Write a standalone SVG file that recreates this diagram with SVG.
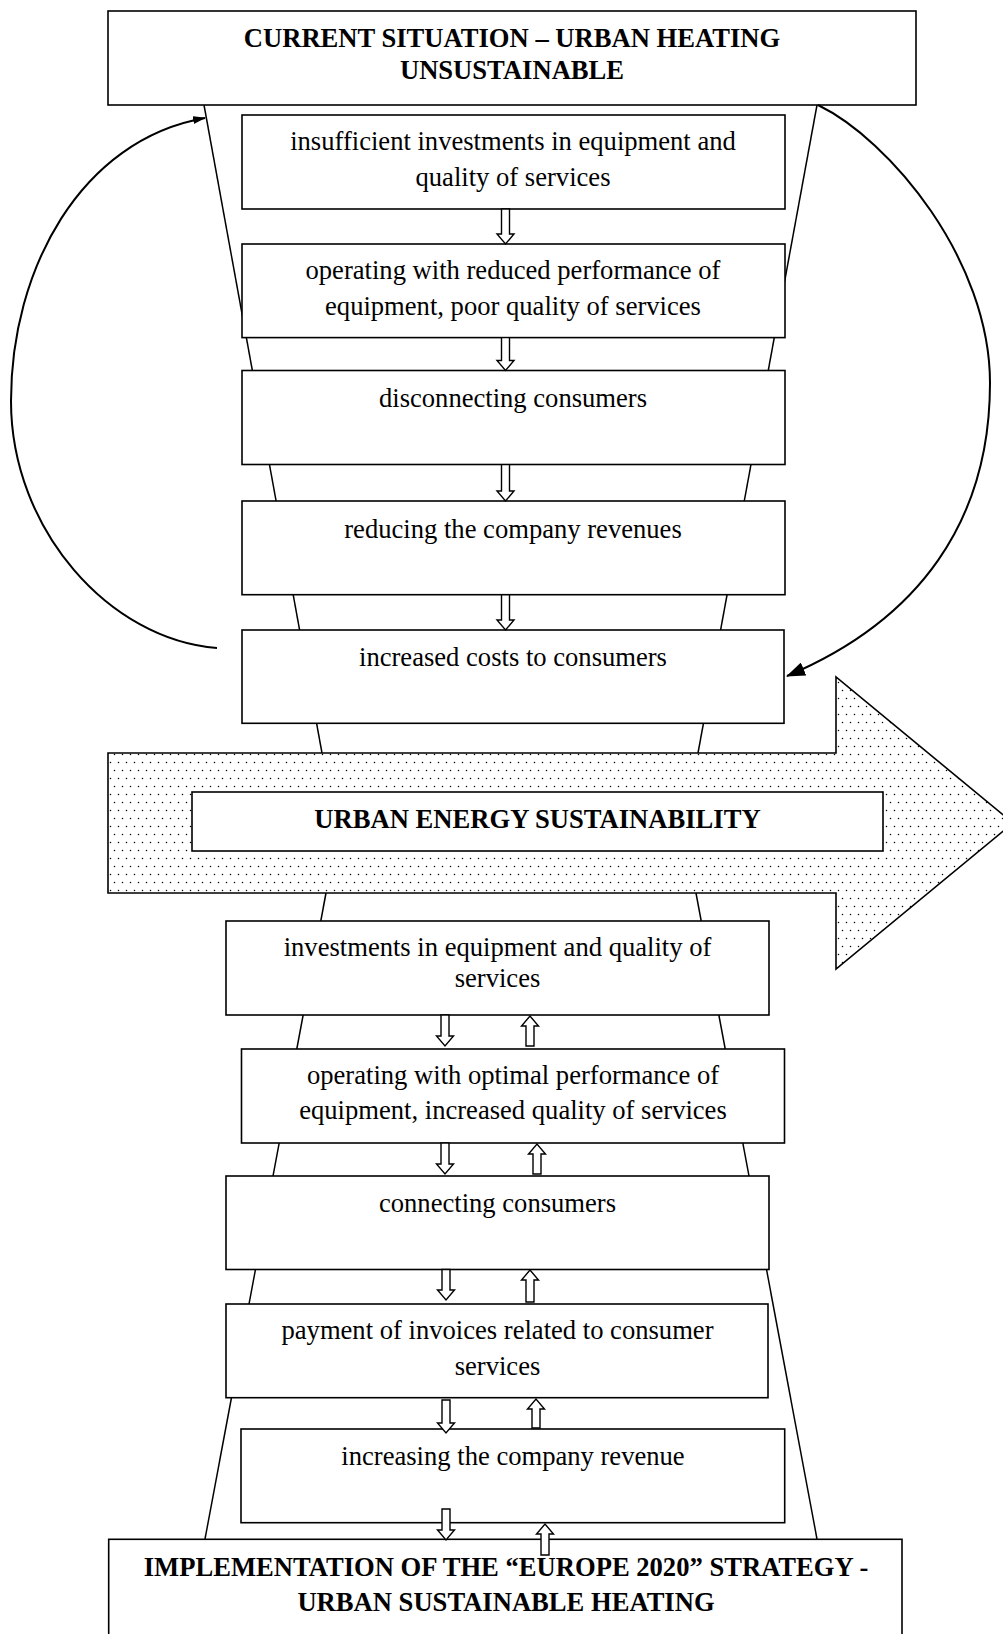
<svg xmlns="http://www.w3.org/2000/svg" width="1003" height="1634" viewBox="0 0 1003 1634">
<style>
.box{fill:#fff;stroke:#000;stroke-width:1.6}
.ln{fill:none;stroke:#000;stroke-width:1.5}
.arc{fill:none;stroke:#000;stroke-width:2}
.blk{fill:#fff;stroke:#000;stroke-width:1.4;stroke-linejoin:miter}
.t{font-family:"Liberation Serif","Times New Roman",serif;font-size:26.6px;fill:#000;text-anchor:middle}
.b{font-weight:bold}
</style>
<defs>
<pattern id="dots" width="16" height="16" patternUnits="userSpaceOnUse">
<rect width="16" height="16" fill="#fff"/>
<circle cx="2.5" cy="2.5" r="0.75" fill="#000"/>
<circle cx="10.5" cy="2.5" r="0.75" fill="#000"/>
<circle cx="6.5" cy="10.5" r="0.75" fill="#000"/>
<circle cx="14.5" cy="10.5" r="0.75" fill="#000"/>
</pattern>
<marker id="arrowBig" markerWidth="19" markerHeight="14" refX="18" refY="7" orient="auto" markerUnits="userSpaceOnUse"><path d="M0,0 L19,7 L0,14 Z" fill="#000"/></marker>
<marker id="arrowSmall" markerWidth="13" markerHeight="8" refX="12" refY="4" orient="auto" markerUnits="userSpaceOnUse"><path d="M0,0 L13,4 L0,8 Z" fill="#000"/></marker>
</defs>
<rect width="1003" height="1634" fill="#fff"/>

<g id="funnel">
<line class="ln" x1="204" y1="105" x2="322" y2="753"/>
<line class="ln" x1="817" y1="105" x2="698" y2="753"/>
<line class="ln" x1="326" y1="893" x2="205" y2="1539"/>
<line class="ln" x1="696" y1="893" x2="817" y2="1539"/>
</g>

<g id="big-arrow">
<polygon points="108,753 836,753 836,677 1013,823 836,969 836,893 108,893" fill="url(#dots)" stroke="#000" stroke-width="1.6"/>
</g>

<g id="n-current">
<rect class="box" x="108" y="11" width="808" height="94"/>
<text class="t b" x="512" y="47">CURRENT SITUATION – URBAN HEATING</text>
<text class="t b" x="512" y="78.5">UNSUSTAINABLE</text>
</g>
<g id="n1">
<rect class="box" x="242" y="115" width="543" height="94"/>
<text class="t" x="513" y="150">insufficient investments in equipment and</text>
<text class="t" x="513" y="186">quality of services</text>
</g>
<g id="n2">
<rect class="box" x="242" y="244" width="543" height="93.6"/>
<text class="t" x="513" y="279">operating with reduced performance of</text>
<text class="t" x="513" y="315">equipment, poor quality of services</text>
</g>
<g id="n3">
<rect class="box" x="242" y="370.5" width="543" height="94"/>
<text class="t" x="513" y="407">disconnecting consumers</text>
</g>
<g id="n4">
<rect class="box" x="242" y="501" width="543" height="93.7"/>
<text class="t" x="513" y="538">reducing the company revenues</text>
</g>
<g id="n5">
<rect class="box" x="242" y="630" width="542" height="93.3"/>
<text class="t" x="513" y="666">increased costs to consumers</text>
</g>
<g id="n-sustain">
<rect class="box" x="192" y="792" width="691" height="59"/>
<text class="t b" x="537.5" y="827.5">URBAN ENERGY SUSTAINABILITY</text>
</g>
<g id="n6">
<rect class="box" x="226" y="921" width="543" height="94"/>
<text class="t" x="497.5" y="956">investments in equipment and quality of</text>
<text class="t" x="497.5" y="987">services</text>
</g>
<g id="n7">
<rect class="box" x="241.5" y="1049" width="543" height="94"/>
<text class="t" x="513" y="1083.5">operating with optimal performance of</text>
<text class="t" x="513" y="1118.5">equipment, increased quality of services</text>
</g>
<g id="n8">
<rect class="box" x="226" y="1176" width="543" height="93.5"/>
<text class="t" x="497.5" y="1211.5">connecting consumers</text>
</g>
<g id="n9">
<rect class="box" x="226" y="1304" width="542" height="93.7"/>
<text class="t" x="497.5" y="1339">payment of invoices related to consumer</text>
<text class="t" x="497.5" y="1375">services</text>
</g>
<g id="n10">
<rect class="box" x="241" y="1429" width="543.7" height="93.7"/>
<text class="t" x="513" y="1465">increasing the company revenue</text>
</g>
<g id="n-europe">
<rect class="box" x="108.7" y="1539.3" width="793.3" height="110"/>
<text class="t b" x="506" y="1575.5">IMPLEMENTATION OF THE “EUROPE 2020” STRATEGY -</text>
<text class="t b" x="506" y="1611">URBAN SUSTAINABLE HEATING</text>
</g>

<g id="connectors">
<path class="blk" d="M501.5,209 L509.5,209 L509.5,234 L514,234 L505.5,244 L497,234 L501.5,234 Z"/>
<path class="blk" d="M501.5,337.6 L509.5,337.6 L509.5,360.5 L514,360.5 L505.5,370.5 L497,360.5 L501.5,360.5 Z"/>
<path class="blk" d="M501.5,464.6 L509.5,464.6 L509.5,491 L514,491 L505.5,501 L497,491 L501.5,491 Z"/>
<path class="blk" d="M501.5,594.7 L509.5,594.7 L509.5,620 L514,620 L505.5,630 L497,620 L501.5,620 Z"/>
<path class="blk" d="M441,1015 L449,1015 L449,1036 L453.5,1036 L445,1046 L436.5,1036 L441,1036 Z"/>
<path class="blk" d="M441,1143 L449,1143 L449,1164 L453.5,1164 L445,1174 L436.5,1164 L441,1164 Z"/>
<path class="blk" d="M442,1269.5 L450,1269.5 L450,1290 L454.5,1290 L446,1300 L437.5,1290 L442,1290 Z"/>
<path class="blk" d="M442,1400 L450,1400 L450,1423 L454.5,1423 L446,1433 L437.5,1423 L442,1423 Z"/>
<path class="blk" d="M442,1509 L450,1509 L450,1530 L454.5,1530 L446,1540 L437.5,1530 L442,1530 Z"/>
<path class="blk" d="M526,1046 L534,1046 L534,1026 L538.5,1026 L530,1016 L521.5,1026 L526,1026 Z"/>
<path class="blk" d="M533,1174 L541,1174 L541,1154 L545.5,1154 L537,1144 L528.5,1154 L533,1154 Z"/>
<path class="blk" d="M526,1302 L534,1302 L534,1280 L538.5,1280 L530,1270 L521.5,1280 L526,1280 Z"/>
<path class="blk" d="M532,1428 L540,1428 L540,1409 L544.5,1409 L536,1399 L527.5,1409 L532,1409 Z"/>
<path class="blk" d="M541,1555 L549,1555 L549,1534 L553.5,1534 L545,1524 L536.5,1534 L541,1534 Z"/>
<path class="arc" d="M217,648 C110,640 11,530 11,401 C11,270 80,140 205,118" marker-end="url(#arrowSmall)"/>
<path class="arc" d="M818,105 C890,140 990,260 990,383 C990,520 920,620 787,676" marker-end="url(#arrowBig)"/>
</g>
</svg>
